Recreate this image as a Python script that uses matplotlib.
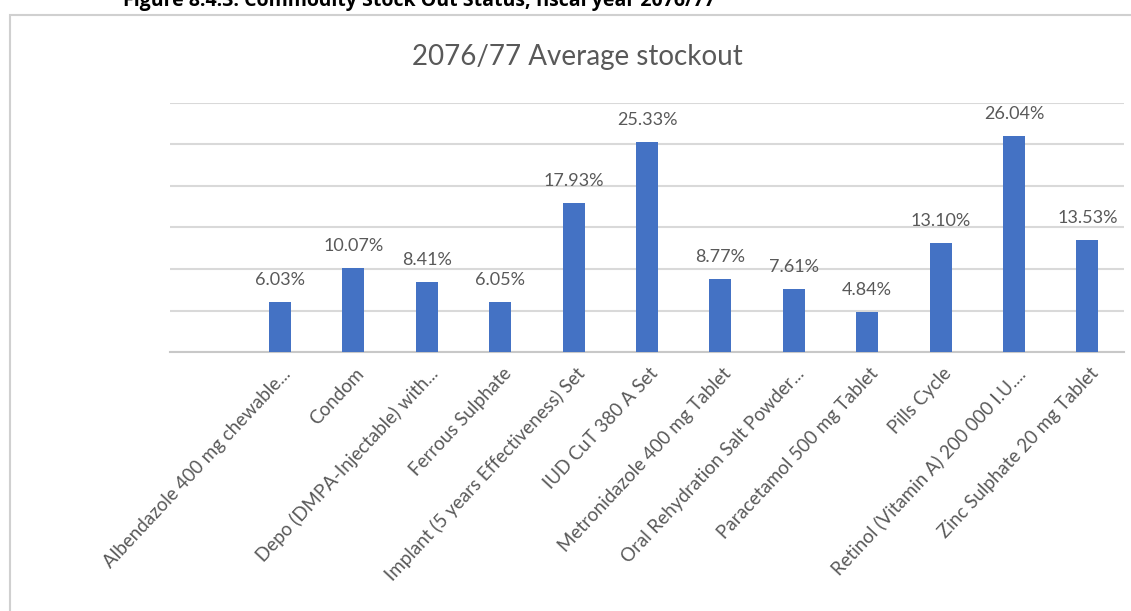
import matplotlib
matplotlib.use("Agg")
import matplotlib.pyplot as plt
from matplotlib.patches import Rectangle
from matplotlib.transforms import ScaledTranslation

# Commodities (first slot is left blank in the category axis)
categories = [
    "",
    "Albendazole 400 mg chewable...",
    "Condom",
    "Depo (DMPA-Injectable) with...",
    "Ferrous Sulphate",
    "Implant (5 years Effectiveness) Set",
    "IUD CuT 380 A Set",
    "Metronidazole 400 mg Tablet",
    "Oral Rehydration Salt Powder...",
    "Paracetamol 500 mg Tablet",
    "Pills Cycle",
    "Retinol (Vitamin A) 200 000 I.U....",
    "Zinc Sulphate 20 mg Tablet",
]
stockout_pct = [None, 6.03, 10.07, 8.41, 6.05, 17.93, 25.33, 8.77, 7.61, 4.84, 13.10, 26.04, 13.53]

title = "2076/77 Average stockout"
caption = "Figure 8.4.3: Commodity Stock Out Status, fiscal year 2076/77"

W, H = 1131, 611
fig = plt.figure(figsize=(W / 100, H / 100), dpi=100)
FONT = ["Lato", "DejaVu Sans"]
GRAY = "#595959"
BLUE = "#4472C4"

# chart frame
fig.patches.append(Rectangle((10 / W, -0.1), 1.2, 1.1 - 15 / H,
                             transform=fig.transFigure, fill=False,
                             edgecolor="#d0d0d0", linewidth=1.5))

fig.text(419 / W, 1 - 6 / H, caption, ha="center", va="baseline",
         fontsize=14, fontweight="bold", family=["Open Sans", "DejaVu Sans"], color="black")
fig.text(577 / W, 1 - 65 / H, title, ha="center", va="baseline",
         fontsize=20, family=FONT, color=GRAY)

ax = fig.add_axes([170 / W, 1 - 352 / H, (1124 - 170) / W, (352 - 103) / H])
x = list(range(len(categories)))
vals = [v if v is not None else 0 for v in stockout_pct]
bars = ax.bar(x, vals, width=0.3, color=BLUE, zorder=3)

for xi, v in zip(x, stockout_pct):
    if v is None:
        continue
    ax.annotate(f"{v:.2f}%", (xi, v), xytext=(0, 14), textcoords="offset pixels",
                ha="center", va="bottom", fontsize=13, family=FONT, color=GRAY)

ax.set_xlim(-0.5, len(categories) - 0.5)
ax.set_ylim(0, 30)
ax.set_yticks([0, 5, 10, 15, 20, 25, 30])
ax.yaxis.grid(True, color="#d9d9d9", linewidth=1.5, zorder=0)
ax.tick_params(axis="y", left=False, labelleft=False)
ax.tick_params(axis="x", bottom=False, pad=10)
for s in ["top", "right", "left"]:
    ax.spines[s].set_visible(False)
ax.spines["bottom"].set_color("#c8c8c8")
ax.spines["bottom"].set_linewidth(1.5)

ax.set_xticks(x)
ax.set_xticklabels(categories, rotation=47, ha="right", va="center",
                   rotation_mode="anchor", fontsize=13.5, family=FONT, color=GRAY)
shift = ScaledTranslation(8 / 100, 0, fig.dpi_scale_trans)
for lbl in ax.get_xticklabels():
    lbl.set_transform(lbl.get_transform() + shift)

fig.savefig("out.png", dpi=100)
